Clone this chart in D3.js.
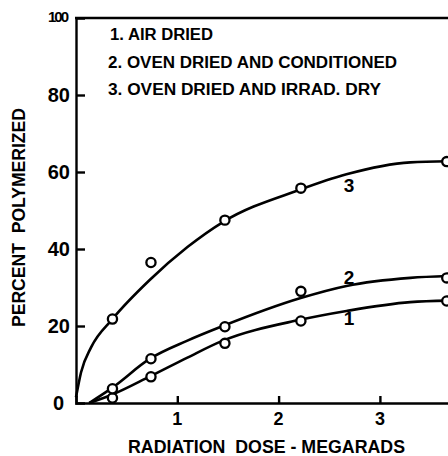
<!DOCTYPE html>
<html>
<head>
<meta charset="utf-8">
<script src="https://cdn.jsdelivr.net/npm/d3@7"></script>
<style>
  html, body { margin: 0; padding: 0; background: #fff; overflow: hidden; }
  svg { display: block; }
  text { font-family: "Liberation Sans", Arial, sans-serif; font-weight: bold; fill: #000; }
</style>
</head>
<body>
<div id="chart"></div>
<script>
// measured doses (megarads)
var doses = [0.36, 0.74, 1.47, 2.22, 3.66];
var air_dried = [1.3, 6.8, 15.5, 21.3, 26.5];
var oven_conditioned = [3.7, 11.5, 19.8, 29.0, 32.5];
var oven_irrad_dry = [21.8, 36.5, 47.5, 55.8, 62.7];

// hand drawn fitted curves as [dose, percent]
var curve_1 = [[0.13, 0], [0.36, 2.2], [0.73, 6.9], [1.1, 11.8], [1.45, 16.2], [2.21, 21.6], [2.67, 23.9], [3.3, 26.2], [3.7, 26.6]];
var curve_2 = [[0.13, 0], [0.36, 4.0], [0.73, 11.5], [1.1, 16.2], [1.45, 20.0], [2.21, 27.2], [2.67, 30.4], [3.3, 32.5], [3.7, 33.0]];
var curve_3 = [[0, 1.5], [0.05, 8], [0.15, 14.5], [0.36, 21.8], [0.73, 32], [1.1, 40.5], [1.45, 47], [2.21, 55.4], [2.67, 59.4], [3.3, 62.5], [3.7, 62.8]];

var x_ticks = [1, 2, 3];
var y_ticks = [0, 20, 40, 60, 80, 100];
var legend_lines = ['1. AIR DRIED', '2. OVEN DRIED AND CONDITIONED', '3. OVEN DRIED AND IRRAD. DRY'];
var curve_labels = [{ text: '1', x: 2.695, y: 20.3 }, { text: '2', x: 2.695, y: 30.9 }, { text: '3', x: 2.695, y: 54.8 }];

var WIDTH = 448, HEIGHT = 456;

var x = d3.scaleLinear().domain([0, 3.7]).range([76, 76 + 3.7 * 101.3]);
var y = d3.scaleLinear().domain([0, 100]).range([403, 18]);

var svg = d3.select('#chart').append('svg')
    .attr('width', WIDTH)
    .attr('height', HEIGHT);

// axes: ticks point into the plot
var x_axis = svg.append('g')
    .attr('transform', 'translate(0,' + y(0) + ')')
    .call(d3.axisTop(x).tickValues(x_ticks).tickSize(7).tickFormat(''));
var y_axis = svg.append('g')
    .attr('transform', 'translate(' + x(0) + ',0)')
    .call(d3.axisRight(y).tickValues(y_ticks.filter((d) => d > 0 && d < 100)).tickSize(9).tickFormat(''));
[x_axis, y_axis].forEach((a) => {
  a.select('.domain').attr('stroke', '#000').attr('stroke-width', 2.4);
  a.selectAll('.tick line').attr('stroke', '#000').attr('stroke-width', 2.4);
});

// top frame line
svg.append('line')
    .attr('x1', x(0) - 1).attr('x2', WIDTH)
    .attr('y1', y(100)).attr('y2', y(100))
    .attr('stroke', '#000').attr('stroke-width', 2.4);

// tick labels
svg.append('g').selectAll('text').data(y_ticks).enter().append('text')
    .attr('x', (d) => d == 100 ? 67 : (d == 0 ? 64 : 70))
    .attr('y', (d) => y(d) + (d == 100 ? 4 : 7))
    .attr('text-anchor', 'end')
    .attr('font-size', (d) => d == 100 ? 15 : 20)
    .attr('letter-spacing', (d) => d == 100 ? -2 : 0)
    .text((d) => d);

svg.append('g').selectAll('text').data(x_ticks).enter().append('text')
    .attr('x', (d) => x(d))
    .attr('y', 425)
    .attr('text-anchor', 'middle')
    .attr('font-size', 18)
    .text((d) => d);

// axis titles
svg.append('text')
    .attr('x', 128).attr('y', 453)
    .attr('font-size', 18)
    .attr('textLength', 277)
    .attr('lengthAdjust', 'spacingAndGlyphs')
    .style('white-space', 'pre')
    .text('RADIATION  DOSE - MEGARADS');

svg.append('text')
    .attr('transform', 'translate(25,327) rotate(-90)')
    .attr('font-size', 19)
    .attr('textLength', 219)
    .attr('lengthAdjust', 'spacingAndGlyphs')
    .style('white-space', 'pre')
    .text('PERCENT  POLYMERIZED');

// legend
var legend_ends = [213, 397, 381];
svg.append('g').selectAll('text').data(legend_lines).enter().append('text')
    .attr('x', (d, i) => i == 0 ? 110 : 108)
    .attr('y', (d, i) => 40 + i * 27.5)
    .attr('font-size', 16)
    .attr('textLength', (d, i) => legend_ends[i] - (i == 0 ? 110 : 108))
    .attr('lengthAdjust', 'spacingAndGlyphs')
    .text((d) => d);

// curves
var line = d3.line()
    .x((d) => x(d[0]))
    .y((d) => y(d[1]))
    .curve(d3.curveMonotoneX);

svg.append('g').selectAll('path').data([curve_1, curve_2, curve_3]).enter().append('path')
    .attr('d', line)
    .attr('fill', 'none')
    .attr('stroke', '#000')
    .attr('stroke-width', 2.6);

// data points
var series = [air_dried, oven_conditioned, oven_irrad_dry];
series.forEach((values) => {
  svg.append('g').selectAll('circle').data(values).enter().append('circle')
      .attr('cx', (d, i) => x(doses[i]))
      .attr('cy', (d) => y(d))
      .attr('r', 4.6)
      .attr('fill', '#fff')
      .attr('stroke', '#000')
      .attr('stroke-width', 2.3);
});

// curve numbers
svg.append('g').selectAll('text').data(curve_labels).enter().append('text')
    .attr('x', (d) => x(d.x))
    .attr('y', (d) => y(d.y))
    .attr('text-anchor', 'middle')
    .attr('font-size', 19)
    .text((d) => d.text);
</script>
</body>
</html>
